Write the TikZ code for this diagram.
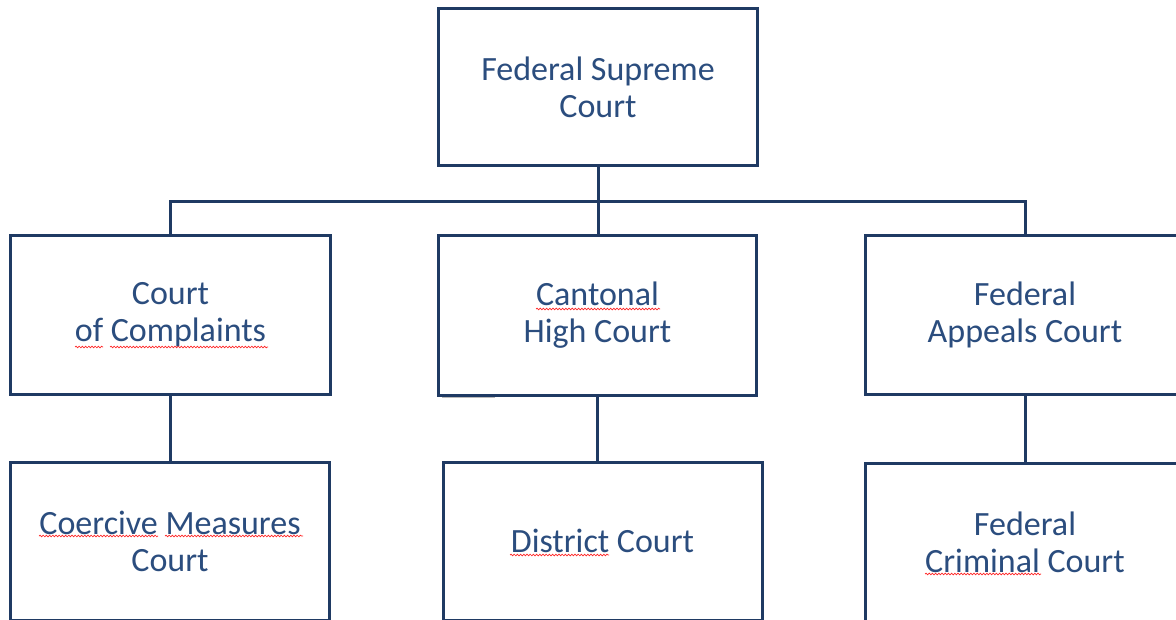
\documentclass[tikz,border=0pt]{standalone}
\usepackage{fontspec}
\setmainfont{Carlito}
\usetikzlibrary{decorations.pathmorphing}
\definecolor{boxline}{HTML}{1F3A63}
\definecolor{boxtext}{HTML}{2B4D7E}
\tikzset{
  court/.style={draw=boxline, line width=3bp, fill=white, align=center,
    text=boxtext, font=\fontsize{34bp}{37bp}\selectfont, inner sep=0pt},
  link/.style={draw=boxline, line width=3bp},
  squiggle/.style={draw=red!85!white, line width=0.7bp,
    decorate, decoration={snake, amplitude=0.8bp, segment length=3.2bp}}
}
\begin{document}
\begin{tikzpicture}[x=1bp, y=-1bp]
\useasboundingbox (0,0) rectangle (1176,620);
\clip (0,0) rectangle (1176,620);
\fill[white] (0,0) rectangle (1176,620);

\node[court, minimum width=319bp, minimum height=157bp] (top) at (598,87.5) {Federal Supreme\\Court};

\node[court, minimum width=319bp, minimum height=158bp] (L2) at (170.5,315) {Court\\of Complaints};
\node[court, minimum width=318bp, minimum height=159bp] (M2) at (597.5,315.5) {Cantonal\\High Court};
\node[court, minimum width=320bp, minimum height=158bp] (R2) at (1025,315) {Federal\\Appeals Court};

\node[court, minimum width=318bp, minimum height=158bp] (L3) at (170,541) {Coercive Measures\\Court};
\node[court, minimum width=319bp, minimum height=158bp] (M3) at (602.5,541) {District Court};
\node[court, minimum width=320bp, minimum height=158bp] (R3) at (1025,542) {Federal\\Criminal Court};

\coordinate (bus) at (598,202);
\draw[link] (top.south) -- (top.south |- M2.north);
\draw[link] (L2.north) |- (bus) -| (R2.north);
\draw[link] (L2.south) -- (L2.south |- L3.north);
\draw[link] (M2.south) -- (M2.south |- M3.north);
\draw[link] (R2.south) -- (R2.south |- R3.north);

% faint artifact under the Cantonal High Court box
\draw[gray!55, line width=1bp] (442,397.5) -- (495,397.5);

% spell-check underlines
\draw[squiggle] (75,347) -- (103,347);
\draw[squiggle] (110,347) -- (268,347);
\draw[squiggle] (536,309) -- (660,309);
\draw[squiggle] (39,536) -- (158,536);
\draw[squiggle] (165,536) -- (303,536);
\draw[squiggle] (510,555) -- (609,555);
\draw[squiggle] (925,574) -- (1041,574);
\end{tikzpicture}
\end{document}
